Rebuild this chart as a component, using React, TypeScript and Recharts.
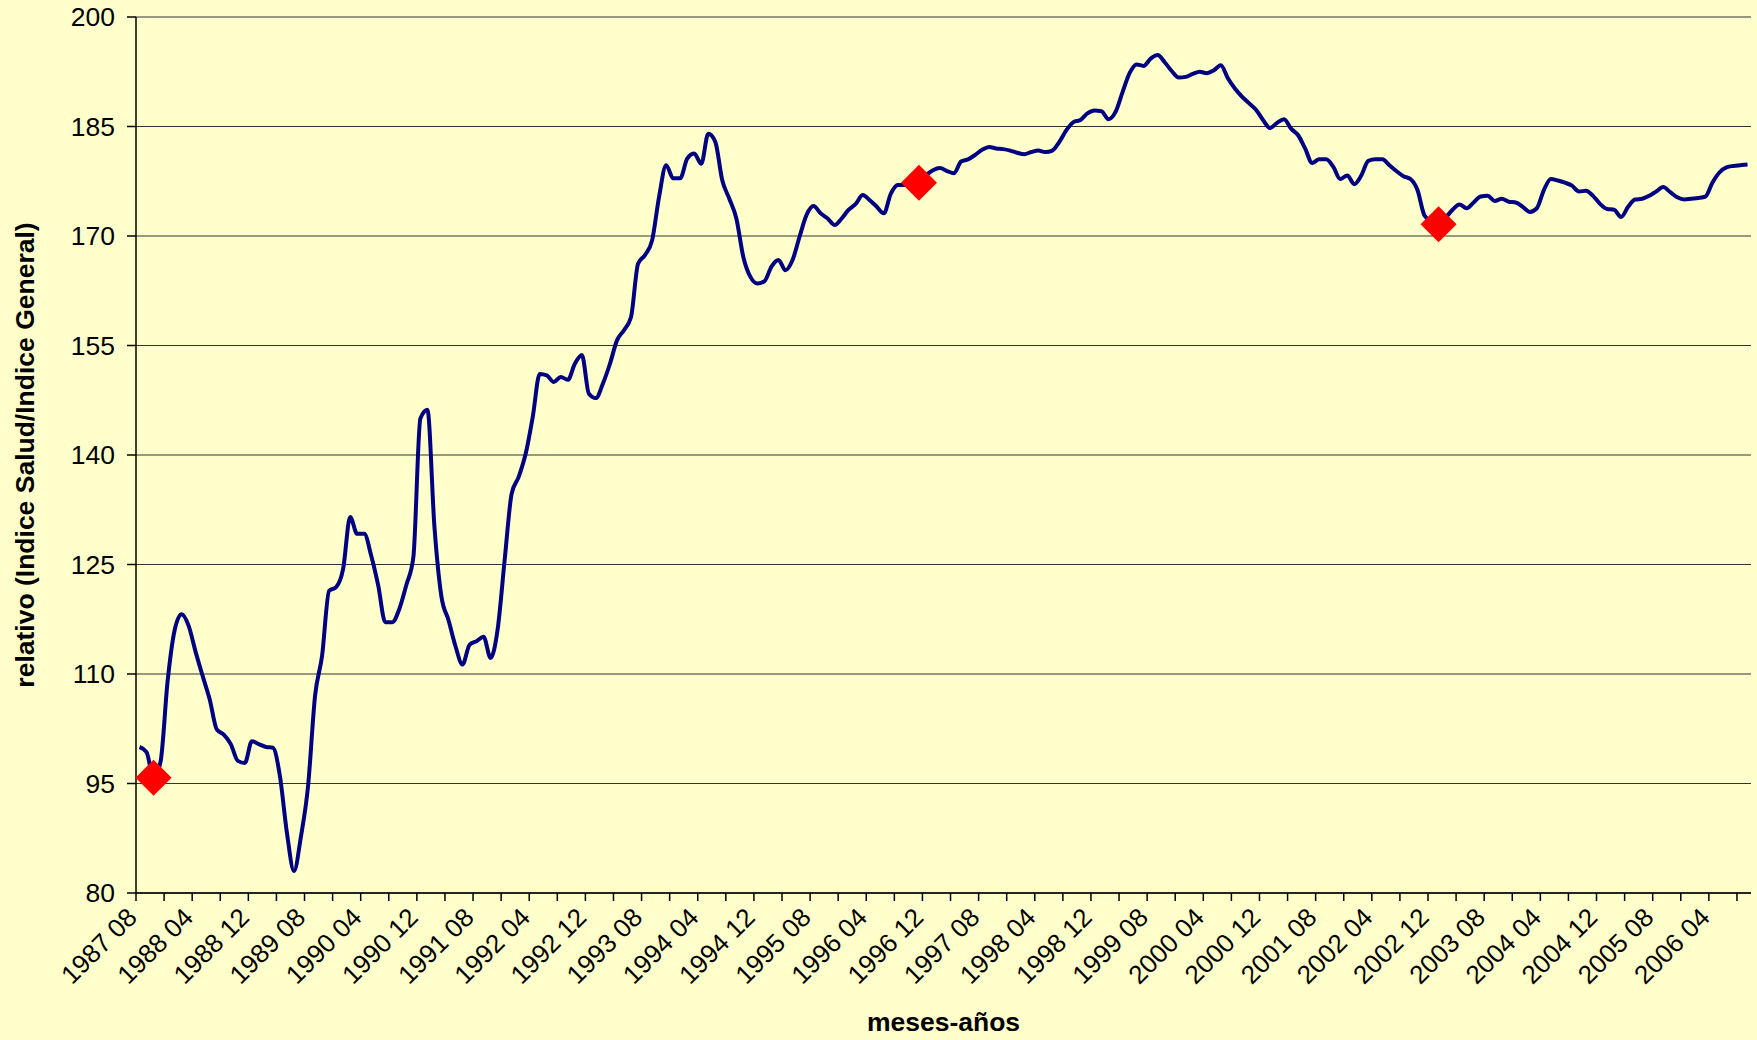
import React from 'react';
import { LineChart, Line, XAxis, YAxis, CartesianGrid, Label } from 'recharts';

// ---- data ----
const START_YEAR = 1987;
const START_MONTH = 8;

const relativo: number[] = [
  100.0, 99.3, 95.8, 98.0, 109.0, 116.0, 118.2, 116.6, 113.0, 109.7,
  106.5, 102.4, 101.7, 100.4, 98.1, 97.8, 100.8, 100.4, 100.0, 99.9,
  96.0, 88.2, 83.0, 87.8, 94.6, 107.0, 112.5, 121.4, 121.9, 124.4,
  131.5, 129.2, 129.2, 126.2, 122.1, 117.1, 117.1, 118.9, 122.2, 126.0,
  145.0, 146.2, 130.2, 120.6, 117.4, 113.8, 111.3, 114.0, 114.5, 115.1,
  112.2, 116.1, 125.6, 134.7, 137.0, 140.2, 145.2, 151.1, 150.9, 150.0,
  150.7, 150.3, 152.5, 153.7, 148.4, 147.8, 149.8, 152.5, 155.7, 157.1,
  158.9, 166.2, 167.4, 169.4, 175.4, 179.7, 177.9, 177.9, 180.6, 181.3,
  179.9, 184.0, 182.9, 177.6, 175.1, 172.4, 167.1, 164.4, 163.5, 163.8,
  165.8, 166.7, 165.3, 166.7, 169.9, 172.9, 174.1, 173.1, 172.4, 171.5,
  172.4, 173.6, 174.4, 175.6, 174.9, 174.0, 173.1, 175.8, 177.0, 177.0,
  177.1, 177.3, 178.3, 179.0, 179.3, 178.9, 178.6, 180.2, 180.5, 181.1,
  181.8, 182.2, 182.0, 181.9, 181.7, 181.4, 181.2, 181.5, 181.7, 181.5,
  181.7, 182.9, 184.5, 185.6, 185.9, 186.8, 187.2, 187.1, 186.0, 187.0,
  189.7, 192.3, 193.5, 193.3, 194.3, 194.8, 193.8, 192.6, 191.7, 191.8,
  192.2, 192.5, 192.3, 192.7, 193.4, 191.6, 190.2, 189.1, 188.2, 187.3,
  185.9, 184.8, 185.5, 186.0, 184.7, 183.8, 182.0, 180.0, 180.5, 180.5,
  179.5, 177.8, 178.3, 177.1, 178.3, 180.3, 180.5, 180.5, 179.7, 178.9,
  178.2, 177.8, 176.3, 172.8, 172.0, 171.6, 172.5, 173.6, 174.3, 173.8,
  174.6, 175.4, 175.5, 174.8, 175.1, 174.7, 174.6, 174.0, 173.3, 173.8,
  176.3, 177.8, 177.6, 177.3, 176.9, 176.1, 176.2, 175.5, 174.4, 173.7,
  173.6, 172.6, 174.0, 175.0, 175.1, 175.5, 176.1, 176.7, 176.0, 175.3,
  175.0, 175.1, 175.2, 175.4, 177.3, 178.7, 179.4, 179.6, 179.7, 179.8,
];

const months: string[] = relativo.map((_, i) => {
  const m = START_MONTH - 1 + i;
  return `${START_YEAR + Math.floor(m / 12)} ${String((m % 12) + 1).padStart(2, '0')}`;
});

const markedMonths: string[] = ['1987 10', '1996 11', '2003 01'];
const yTicks: number[] = [80, 95, 110, 125, 140, 155, 170, 185, 200];
const TICK_EVERY = 4;
const LABEL_EVERY = 8;

const data = months.map((month, i) => ({
  month,
  value: relativo[i],
  marker: markedMonths.includes(month) ? relativo[i] : null,
}));

// ---- layout / style ----
const W = 1757;
const H = 1040;
const Y_AXIS_W = 136;
const X_AXIS_H = 147;
const M = { top: 17, right: 6, bottom: 0, left: 0 };
const PLOT_W = W - Y_AXIS_W - M.left - M.right;
const BAND = PLOT_W / months.length;
const FONT = '"Liberation Sans", Arial, Helvetica, sans-serif';
const BG = '#FFFFCC';

const XTick = (props: any) => {
  const { x, y, payload } = props;
  const idx = months.indexOf(payload.value);
  const bx = x - BAND / 2;
  const ax = x - 1;
  const ay = y + 26;
  return (
    <g>
      <line x1={bx} x2={bx} y1={y} y2={y + 8} stroke="#000" strokeWidth={1.5} />
      {idx % LABEL_EVERY === 0 && (
        <text
          x={ax}
          y={ay}
          transform={`rotate(-45 ${ax} ${ay})`}
          textAnchor="end"
          fontSize={26}
          fontFamily={FONT}
          fill="#000"
        >
          {payload.value}
        </text>
      )}
    </g>
  );
};

const YTitle = (props: any) => {
  const vb = props.viewBox || { x: 0, y: M.top, width: Y_AXIS_W, height: 876 };
  const cx = 25;
  const cy = vb.y + vb.height / 2;
  return (
    <text
      x={cx}
      y={cy}
      transform={`rotate(-90 ${cx} ${cy})`}
      textAnchor="middle"
      dominantBaseline="central"
      fontWeight="bold"
      fontSize={26.5}
      fontFamily={FONT}
      fill="#000"
    >
      relativo (Indice Salud/Indice General)
    </text>
  );
};

const XTitle = (props: any) => {
  const vb = props.viewBox || { x: Y_AXIS_W, y: 893, width: PLOT_W, height: X_AXIS_H };
  const cx = vb.x + vb.width / 2;
  const cy = vb.y + vb.height - 9;
  return (
    <text
      x={cx}
      y={cy}
      textAnchor="middle"
      fontWeight="bold"
      fontSize={26.5}
      fontFamily={FONT}
      fill="#000"
    >
      meses-años
    </text>
  );
};

const Diamond = (props: any) => {
  const { cx, cy, value, index } = props;
  if (value == null || cx == null || cy == null) return <g key={`d${index}`} />;
  const r = 18;
  return (
    <polygon
      key={`d${index}`}
      points={`${cx},${cy - r} ${cx + r},${cy} ${cx},${cy + r} ${cx - r},${cy}`}
      fill="#FF0000"
      stroke="none"
    />
  );
};

export default function App() {
  return (
    <div style={{ position: 'absolute', left: 0, top: 0, width: W, height: H, background: BG }}>
      <LineChart width={W} height={H} data={data} margin={M}>
        <CartesianGrid horizontal vertical={false} stroke="#333" strokeWidth={1} />
        <XAxis
          xAxisId="top"
          orientation="top"
          dataKey="month"
          height={0}
          tick={false}
          tickLine={false}
          axisLine={{ stroke: '#808080', strokeWidth: 2 }}
          padding={{ left: BAND / 2, right: BAND / 2 }}
        />
        <YAxis
          yAxisId="right"
          orientation="right"
          width={0}
          domain={[80, 200]}
          ticks={yTicks}
          tick={false}
          tickLine={false}
          axisLine={{ stroke: '#808080', strokeWidth: 2.5 }}
        />
        <XAxis
          dataKey="month"
          height={X_AXIS_H}
          interval={TICK_EVERY - 1}
          tick={<XTick />}
          tickLine={false}
          tickSize={0}
          tickMargin={0}
          axisLine={{ stroke: '#000', strokeWidth: 1.5 }}
          padding={{ left: BAND / 2, right: BAND / 2 }}
        >
          <Label content={<XTitle />} />
        </XAxis>
        <YAxis
          width={Y_AXIS_W}
          domain={[80, 200]}
          ticks={yTicks}
          interval={0}
          tickSize={9}
          tickMargin={12}
          tick={{ fontSize: 26.5, fontFamily: FONT, fill: '#000' }}
          tickLine={{ stroke: '#000', strokeWidth: 1.5 }}
          axisLine={{ stroke: '#000', strokeWidth: 1.5 }}
        >
          <Label content={<YTitle />} />
        </YAxis>
        <Line
          type="monotone"
          dataKey="value"
          stroke="#000080"
          strokeWidth={4}
          dot={false}
          activeDot={false}
          isAnimationActive={false}
        />
        <Line
          type="monotone"
          dataKey="marker"
          stroke="none"
          dot={<Diamond />}
          activeDot={false}
          connectNulls={false}
          isAnimationActive={false}
        />
      </LineChart>
    </div>
  );
}
